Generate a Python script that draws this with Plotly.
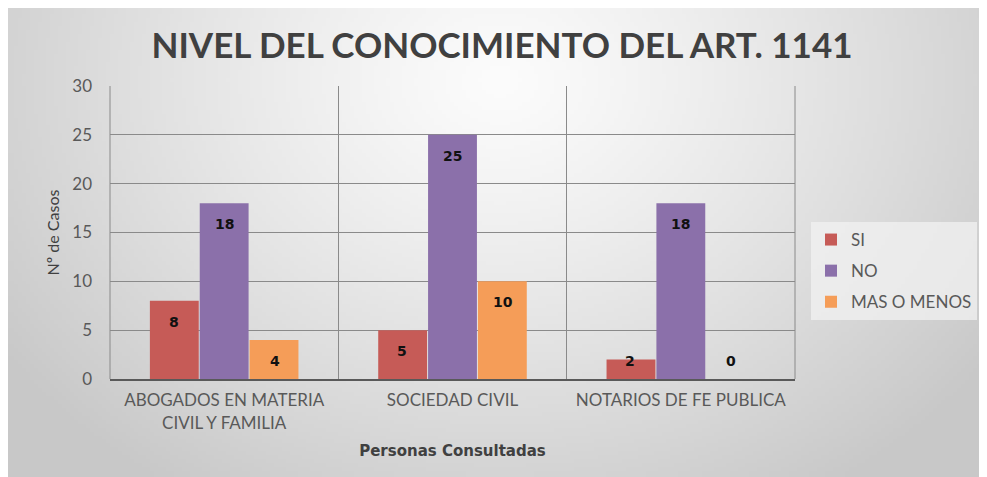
import base64, struct, zlib
import numpy as np
import plotly.graph_objects as go

# ---- data ----
categories = ["ABOGADOS EN MATERIA<br>CIVIL Y FAMILIA", "SOCIEDAD CIVIL", "NOTARIOS DE FE PUBLICA"]
series_names = ["SI", "NO", "MAS O MENOS"]
si_values = [8, 5, 2]
no_values = [18, 25, 18]
mas_values = [4, 10, 0]
y_ticks = [0, 5, 10, 15, 20, 25, 30]
colors = ["#c65b57", "#8b70aa", "#f59d58"]

W, H = 987, 477
L, R, T, B = 102, 200, 78, 106
PW, PH = W - L - R, H - T - B

# ---- radial grey gradient background as inline PNG ----
def make_png(arr):
    h, w, _ = arr.shape
    raw = b"".join(b"\x00" + arr[r].tobytes() for r in range(h))
    def chunk(t, d):
        c = struct.pack(">I", len(d)) + t + d
        return c + struct.pack(">I", zlib.crc32(t + d) & 0xffffffff)
    png = b"\x89PNG\r\n\x1a\n" + chunk(b"IHDR", struct.pack(">IIBBBBB", w, h, 8, 2, 0, 0, 0))
    png += chunk(b"IDAT", zlib.compress(raw, 9)) + chunk(b"IEND", b"")
    return "data:image/png;base64," + base64.b64encode(png).decode()

gw, gh = 245, 118
yy, xx = np.mgrid[0:gh, 0:gw]
cx, cy = gw * 0.50, gh * 0.15
d = np.sqrt(((xx - cx) / (gw * 0.62)) ** 2 + ((yy - cy) / (gh * 1.05)) ** 2)
d = np.clip(d, 0, 1)
val = 252 - (252 - 200) * d ** 1.2
img = np.repeat(val[:, :, None], 3, axis=2).astype(np.uint8)
bg_src = make_png(img)

fig = go.Figure()
for name, vals, col in zip(series_names, [si_values, no_values, mas_values], colors):
    fig.add_trace(go.Bar(
        x=categories, y=vals, name=name, legendgroup=name,
        marker=dict(color=col, line=dict(width=0)),
    ))

# data labels (inside end, kept above axis for small bars)
annotations = []
for i, vals in enumerate([si_values, no_values, mas_values]):
    for c, v in zip(categories, vals):
        annotations.append(dict(
            x=c, y=max(v - 2.15, 1.85), xref="x", yref="y",
            xshift=(i - 1) * 50.5, text=f"<b>{v}</b>", showarrow=False,
            font=dict(family="DejaVu Sans", size=14, color="#111111"),
            yanchor="middle",
        ))

fig.update_layout(
    width=W, height=H,
    paper_bgcolor="white",
    plot_bgcolor="rgba(0,0,0,0)",
    margin=dict(l=L, r=R, t=T, b=B),
    barmode="group", bargap=0.345, bargroupgap=0.02,
    title=dict(text="<b>NIVEL DEL CONOCIMIENTO DEL ART. 1141</b>", x=0.5005, xanchor="center",
               y=1 - 38 / H, yanchor="middle", yref="container",
               font=dict(family="Lato", size=35, color="#404040")),
    showlegend=True,
    legend=dict(
        x=(803 - L) / PW, y=(H - B - 263) / PH, xref="paper", yref="paper", xanchor="left", yanchor="middle",
        bgcolor="rgba(242,242,242,0.75)", font=dict(family="Lato", size=17, color="#595959"),
        tracegroupgap=6, itemwidth=30, traceorder="grouped",
    ),
    annotations=annotations,
    images=[dict(source=bg_src, xref="paper", yref="paper", x=-L / PW, y=1 + T / PH,
                 sizex=979 / PW, sizey=469 / PH, xanchor="left", yanchor="top",
                 sizing="stretch", layer="below")],
    xaxis=dict(
        tickson="boundaries", showgrid=True, gridcolor="#8a8a8a", gridwidth=1,
        showline=True, linecolor="#595959", linewidth=2, mirror=False,
        ticks="", ticklabelstandoff=5, tickfont=dict(family="Lato", size=17, color="#595959"),
        title=dict(text="<b>Personas Consultadas</b>", font=dict(family="DejaVu Sans", size=15, color="#404040"), standoff=14),
    ),
    yaxis=dict(
        range=[0, 30], tickvals=y_ticks, showgrid=True, gridcolor="#8a8a8a", gridwidth=1,
        zeroline=False, showline=False, ticks="", ticklabelstandoff=17,
        tickfont=dict(family="Lato", size=17, color="#595959"),
        title=dict(text="Nº de Casos", font=dict(family="Lato", size=16, color="#404040"), standoff=8),
    ),
    shapes=[
        dict(type="line", xref="paper", yref="paper", x0=0, x1=0, y0=0, y1=1, line=dict(color="#8a8a8a", width=1), layer="below"),
        dict(type="line", xref="paper", yref="paper", x0=1, x1=1, y0=0, y1=1, line=dict(color="#8a8a8a", width=1), layer="below"),
    ],
)

fig.write_html("out.html")
